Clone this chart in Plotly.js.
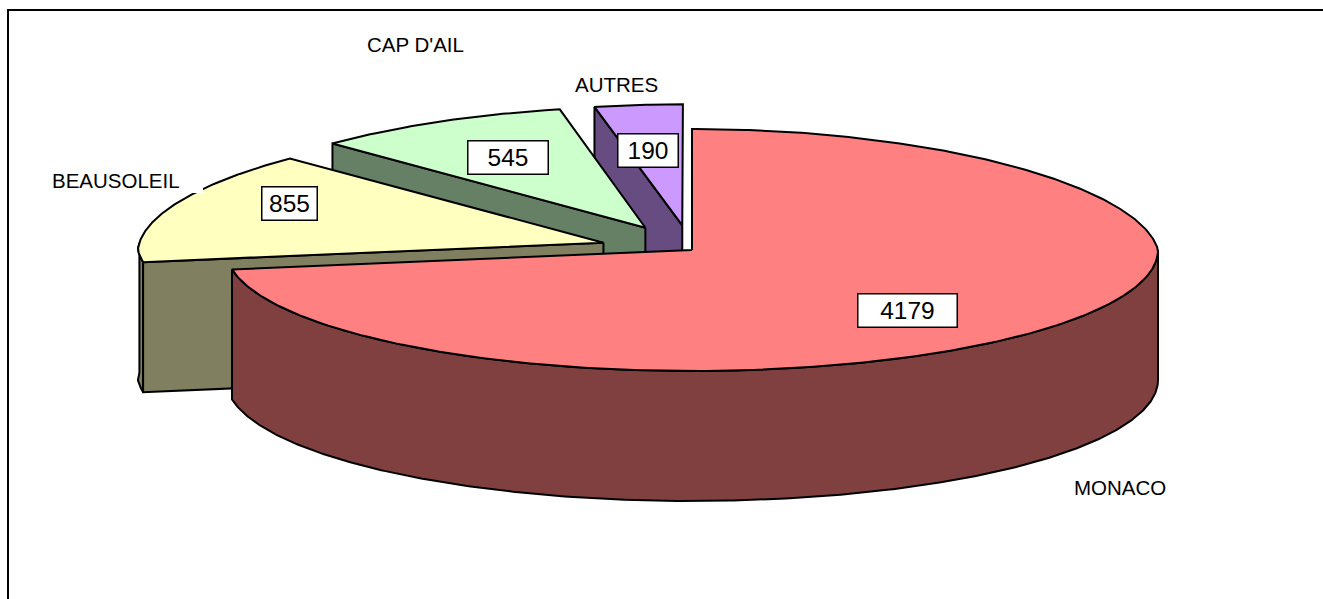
<!DOCTYPE html>
<html><head><meta charset="utf-8">
<script src="https://cdn.plot.ly/plotly-3.0.1.min.js"></script>
<style>
html,body{margin:0;padding:0;background:#fff;overflow:hidden;}
#wrap{position:relative;width:1323px;height:599px;overflow:hidden;}
#chart{position:absolute;left:0;top:0;width:1323px;height:599px;}
#frame{position:absolute;left:7px;top:9px;width:1400px;height:700px;border-top:2.5px solid #000;border-left:2.5px solid #000;pointer-events:none;}
</style>
</head><body><div id="wrap"><div id="chart"></div><div id="frame"></div></div>
<script>
// ---- data ----
const categories = ['MONACO', 'BEAUSOLEIL', "CAP D'AIL", 'AUTRES'];
const values = [4179, 855, 545, 190];
const valueLabels = ['4179', '855', '545', '190'];

// ---- styles ----
const topColors = ['#FF8080', '#FFFFC0', '#CCFFCC', '#CC99FF'];
const sideColors = ['#804040', '#808060', '#668066', '#664C80'];
const explode = [0, 0.2, 0.21, 0.205];
// label layout (pixel positions of text centres)
const catLabelPos = [[1120, 487], [116, 180], [415, 44], [616, 84]];
const valLabelPos = [[907, 310.5], [289.5, 203], [507.5, 157.5], [647.5, 150.5]];
const valBoxW = [96, 52, 77, 57];

// ---- 3D pie geometry ----
const CX = 692, CY = 250, RX = 466, RY = 121, DEPTH = 130, PERSP = 0.07;
const DEG = Math.PI / 180;
function proj(u, v, z) {
  const s = v > 0 ? 1 / (1 + PERSP * v) : 1;
  return [CX + RX * u * s, CY - RY * v + z];
}
const total = values.reduce((a, b) => a + b, 0);
let acc = 0;
const slices = values.map((val, i) => {
  const a = acc / total * 360; acc += val; const b = acc / total * 360;
  const m = (a + b) / 2;
  return {i, a, b, m, ox: explode[i] * Math.sin(m * DEG), oy: explode[i] * Math.cos(m * DEG)};
});
function rim(sl, th, z) { return proj(sl.ox + Math.sin(th * DEG), sl.oy + Math.cos(th * DEG), z); }
function apex(sl, z) { return proj(sl.ox, sl.oy, z); }
function poly(points, fill) {
  const xs = points.map(p => p[0]), ys = points.map(p => p[1]);
  xs.push(xs[0]); ys.push(ys[0]);
  return {type: 'scatter', mode: 'lines', x: xs, y: ys, fill: 'toself', fillcolor: fill,
          line: {color: '#000', width: 2}, hoverinfo: 'skip', showlegend: false};
}
function arcPts(sl, from, to, z) {
  const pts = []; const n = Math.max(2, Math.ceil(Math.abs(to - from) / 0.5));
  for (let k = 0; k <= n; k++) pts.push(rim(sl, from + (to - from) * k / n, z));
  return pts;
}
const traces = [];
const order = slices.slice().sort((p, q) => Math.cos(q.m * DEG) - Math.cos(p.m * DEG));
order.forEach(sl => {
  const side = sideColors[sl.i];
  const lo = Math.max(sl.a, 90), hi = Math.min(sl.b, 270);
  if (hi > lo) {
    traces.push(poly(arcPts(sl, lo, hi, 0).concat(arcPts(sl, hi, lo, DEPTH)), side));
  }
  if (Math.sin(sl.a * DEG) < -1e-6) {
    traces.push(poly([apex(sl, 0), rim(sl, sl.a, 0), rim(sl, sl.a, DEPTH), apex(sl, DEPTH)], side));
  }
  if (Math.sin(sl.b * DEG) > 1e-6) {
    traces.push(poly([apex(sl, 0), rim(sl, sl.b, 0), rim(sl, sl.b, DEPTH), apex(sl, DEPTH)], side));
  }
  traces.push(poly([apex(sl, 0)].concat(arcPts(sl, sl.a, sl.b, 0)), topColors[sl.i]));
});

const FONT = 'Arial, "Liberation Sans", sans-serif';
const annotations = [];
categories.forEach((c, i) => {
  annotations.push({x: catLabelPos[i][0], y: catLabelPos[i][1], xref: 'x', yref: 'y', text: c,
    showarrow: false, xanchor: 'center', yanchor: 'middle', font: {family: FONT, size: 20.5, color: '#000'}});
});
valueLabels.forEach((t, i) => {
  annotations.push({x: valLabelPos[i][0], y: valLabelPos[i][1], xref: 'x', yref: 'y', text: t,
    showarrow: false, xanchor: 'center', yanchor: 'middle', width: valBoxW[i], height: 30, borderpad: 1,
    bgcolor: '#fff', bordercolor: '#000', borderwidth: 1.5,
    font: {family: FONT, size: 24.5, color: '#000'}});
});

const shapes = [
  {type: 'rect', xref: 'x', yref: 'y', x0: 32, y0: 164, x1: 203, y1: 193, line: {width: 0}, fillcolor: '#fff', layer: 'above'}
];

Plotly.newPlot('chart', traces, {
  width: 1323, height: 599, margin: {l: 0, r: 0, t: 0, b: 0},
  paper_bgcolor: '#fff', plot_bgcolor: '#fff', showlegend: false, hovermode: false,
  xaxis: {range: [0, 1323], visible: false, fixedrange: true},
  yaxis: {range: [599, 0], visible: false, fixedrange: true},
  annotations, shapes
}, {displayModeBar: false, staticPlot: true});
</script></body></html>
